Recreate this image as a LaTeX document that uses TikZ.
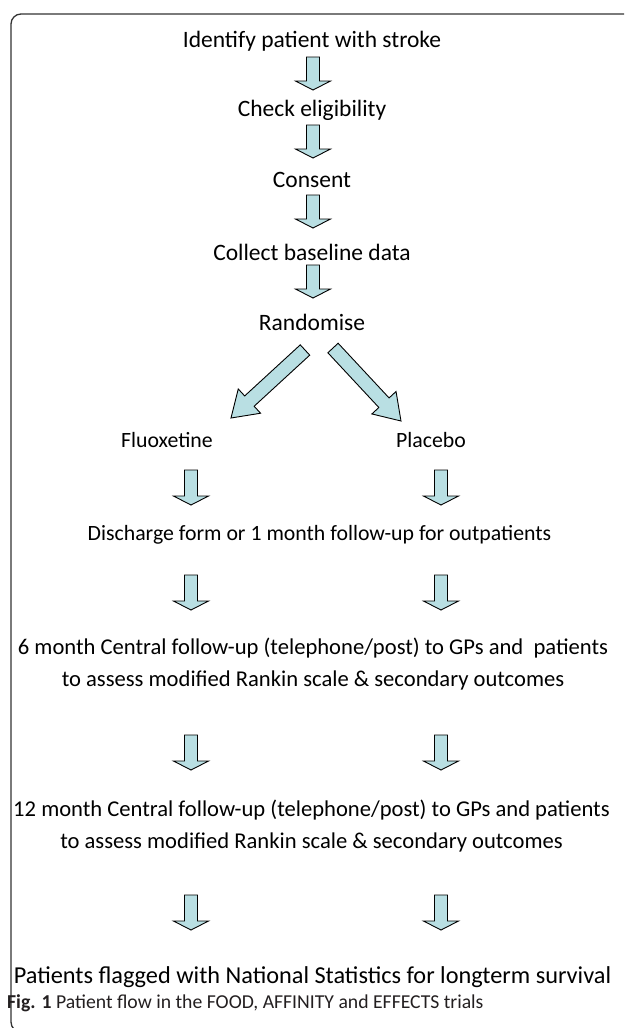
\documentclass[tikz,border=0pt]{standalone}
\usepackage{fontspec}
\setmainfont{Carlito}
\usetikzlibrary{calc}
\definecolor{arrowfill}{HTML}{B9DFE3}
\definecolor{framecol}{HTML}{333333}
\definecolor{capcol}{HTML}{231F20}
\tikzset{
  lbl/.style={font=\fontsize{23.5}{32}\selectfont, align=center, inner sep=0pt},
  lblsmall/.style={lbl, font=\fontsize{21.8}{32}\selectfont},
  lblmid/.style={lbl, font=\fontsize{22.6}{32}\selectfont},
  lblbig/.style={lbl, font=\fontsize{24.3}{32}\selectfont},
  caplbl/.style={font=\fontsize{19.7}{24}\selectfont, text=capcol, inner sep=0pt, anchor=west},
  varrow/.style={draw=black, fill=arrowfill, line width=0.9pt, line join=miter,
    to path={($(\tikztostart)!6.5pt!90:(\tikztotarget)$)
      -- ($(\tikztotarget)!11.07pt!-35.84:(\tikztostart)$)
      -- ($(\tikztotarget)!19.68pt!-62.80:(\tikztostart)$)
      -- (\tikztotarget)
      -- ($(\tikztotarget)!19.68pt!62.80:(\tikztostart)$)
      -- ($(\tikztotarget)!11.07pt!35.84:(\tikztostart)$)
      -- ($(\tikztostart)!6.5pt!-90:(\tikztotarget)$) -- cycle}},
  darrow/.style={draw=black, fill=arrowfill, line width=0.9pt, line join=miter,
    to path={($(\tikztostart)!7pt!90:(\tikztotarget)$)
      -- ($(\tikztotarget)!25.96pt!-15.64:(\tikztostart)$)
      -- ($(\tikztotarget)!29.95pt!-33.42:(\tikztostart)$)
      -- (\tikztotarget)
      -- ($(\tikztotarget)!29.95pt!33.42:(\tikztostart)$)
      -- ($(\tikztotarget)!25.96pt!15.64:(\tikztostart)$)
      -- ($(\tikztostart)!7pt!-90:(\tikztotarget)$) -- cycle}},
}
\begin{document}
\begin{tikzpicture}[x=1pt,y=-1pt]
\useasboundingbox (0,0) rectangle (624,1028);
\begin{scope}
  \clip (0,0) rectangle (624,1028);
  \draw[framecol, line width=1.3pt, rounded corners=10pt] (11,14) rectangle (660,1032);
\end{scope}
% text nodes
\node[lbl] (t1) at (312,41) {Identify patient with stroke};
\node[lbl] (t2) at (312,110) {Check eligibility};
\node[lbl] (t3) at (312,180) {Consent};
\node[lbl] (t4) at (312,252) {Collect baseline data};
\node[lbl] (t5) at (312,322) {Randomise};
\node[lblsmall] (t6) at (167,440) {Fluoxetine};
\node[lblsmall] (t7) at (431,440) {Placebo};
\node[lblsmall] (t8) at (319.5,535) {Discharge form or 1 month follow-up for outpatients};
\node[lblmid] (t9) at (313,664) {6 month Central follow-up (telephone/post) to GPs and\ \ patients\\to assess modified Rankin scale \& secondary outcomes};
\node[lblmid] (t10) at (311.5,826) {12 month Central follow-up (telephone/post) to GPs and patients\\to assess modified Rankin scale \& secondary outcomes};
\node[lblbig] (t11) at (312.5,977) {Patients flagged with National Statistics for longterm survival};
\node[caplbl] (cap) at (7,1003) {\textbf{Fig. 1} Patient flow in the FOOD, AFFINITY and EFFECTS trials};
% arrow end points
\coordinate (v1a) at (313,57);  \coordinate (v1b) at (313,90);
\coordinate (v2a) at (313,125); \coordinate (v2b) at (313,158);
\coordinate (v3a) at (313,195); \coordinate (v3b) at (313,228);
\coordinate (v4a) at (313,265); \coordinate (v4b) at (313,298);
\coordinate (dla) at (305,350); \coordinate (dlb) at (231,418);
\coordinate (dra) at (333,348); \coordinate (drb) at (401,421);
\foreach \n/\ya/\yb in {p1/470/505, p2/575/610, p3/735/770, p4/895/930}{
  \coordinate (\n La) at (191,\ya); \coordinate (\n Lb) at (191,\yb);
  \coordinate (\n Ra) at (441,\ya); \coordinate (\n Rb) at (441,\yb);
}
% connectors
\draw[varrow] (v1a) to (v1b);
\draw[varrow] (v2a) to (v2b);
\draw[varrow] (v3a) to (v3b);
\draw[varrow] (v4a) to (v4b);
\draw[darrow] (dla) to (dlb);
\draw[darrow] (dra) to (drb);
\foreach \n in {p1,p2,p3,p4}{
  \draw[varrow] (\n La) to (\n Lb);
  \draw[varrow] (\n Ra) to (\n Rb);
}
\end{tikzpicture}
\end{document}
